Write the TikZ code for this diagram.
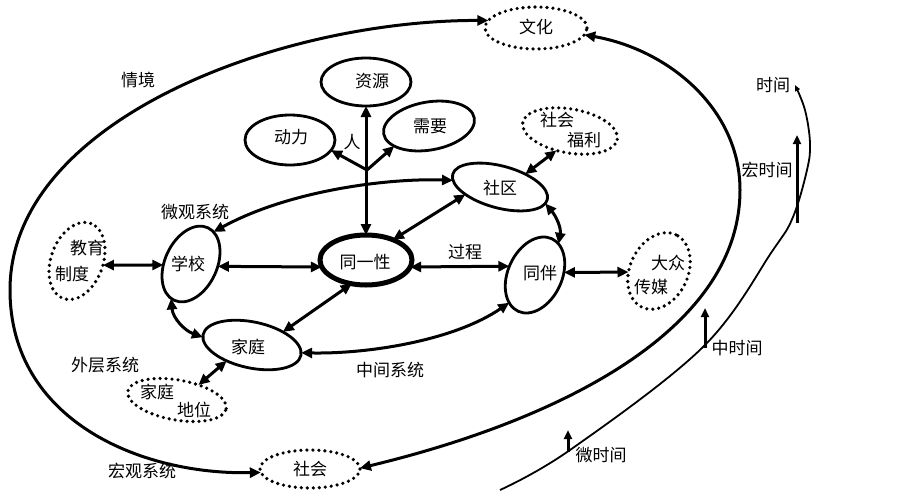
\documentclass[tikz,border=0pt]{standalone}
\usepackage{fontspec}
\newfontfamily\cjkfont{Noto Sans CJK SC}
\usetikzlibrary{shapes.geometric,arrows.meta}
\begin{document}
\begin{tikzpicture}[x=1pt,y=1pt,
  >={Triangle[length=11pt,width=10pt]},
  shp/.style={ellipse, draw, line width=2.8pt, inner sep=0pt, outer sep=0pt},
  ext/.style={ellipse, draw, line width=3.6pt, dash pattern=on 0pt off 6pt, line cap=round, inner sep=0pt, outer sep=0pt},
  lbl/.style={font=\cjkfont\fontsize{17}{19}\selectfont, inner sep=0pt},
  conn/.style={line width=3pt, <->},
  one/.style={line width=3pt, ->},
  bar/.style={line width=3pt, -{Triangle[length=9pt,width=8pt]}},
  tline/.style={line width=1.8pt, -{Triangle[length=6pt,width=5pt]}},
]
\useasboundingbox (0,0) rectangle (903,-499);

% nodes
\node[ext, minimum width=102, minimum height=42] (wenhua) at (536,-28) {};
\node[lbl] (twenhua) at (536,-27) {文化};
\node[ext, minimum width=100, minimum height=38] (shehui) at (310,-469) {};
\node[lbl] (tshehui) at (310,-469) {社会};
\node[shp, minimum width=90, minimum height=48] (ziyuan) at (366,-82) {};
\node[lbl] (tziyuan) at (372,-81) {资源};
\node[shp, minimum width=92, minimum height=48, rotate=10] (xuyao) at (429,-126) {};
\node[lbl] (txuyao) at (430,-126) {需要};
\node[shp, minimum width=90, minimum height=50] (dongli) at (290,-140) {};
\node[lbl] (tdongli) at (291,-137) {动力};
\node[shp, line width=5pt, minimum width=92, minimum height=50] (tongyi) at (366,-260) {};
\node[lbl] (ttongyi) at (365,-262) {同一性};
\node[shp, minimum width=80, minimum height=52, rotate=65] (xuexiao) at (191,-264) {};
\node[lbl] (txuexiao) at (188,-264) {学校};
\node[shp, minimum width=100, minimum height=46, rotate=-12] (jiating) at (252,-345) {};
\node[lbl] (tjiating) at (248,-347) {家庭};
\node[shp, minimum width=98, minimum height=42, rotate=-15] (shequ) at (500,-187) {};
\node[lbl] (tshequ) at (500,-188) {社区};
\node[shp, minimum width=80, minimum height=54, rotate=65] (tongban) at (535,-275) {};
\node[lbl] (ttongban) at (540,-273) {同伴};
\node[ext, minimum width=80, minimum height=52, rotate=70] (jiaoyu) at (77,-261) {};
\node[lbl] (tjiaoyu1) at (87,-248) {教育};
\node[lbl] (tjiaoyu2) at (72,-274) {制度};
\node[ext, minimum width=96, minimum height=44, rotate=-10] (fuli) at (570,-131) {};
\node[lbl] (tfuli1) at (557,-120) {社会};
\node[lbl] (tfuli2) at (584,-140) {福利};
\node[ext, minimum width=80, minimum height=58, rotate=65] (chuanmei) at (659,-271) {};
\node[lbl] (tchuanmei1) at (668,-263) {大众};
\node[lbl] (tchuanmei2) at (651,-287) {传媒};
\node[ext, minimum width=100, minimum height=40, rotate=-10] (diwei) at (177,-400) {};
\node[lbl] (tdiwei1) at (157,-392) {家庭};
\node[lbl] (tdiwei2) at (194,-410) {地位};

% free labels
\node[lbl] (lqingjing) at (138,-80) {情境};
\node[lbl] (lweiguan) at (195,-212) {微观系统};
\node[lbl] (lwaiceng) at (105,-365) {外层系统};
\node[lbl] (lhongguan) at (142,-471) {宏观系统};
\node[lbl] (lzhongjian) at (390,-370) {中间系统};
\node[lbl] (lguocheng) at (465,-252) {过程};
\node[lbl] (lren) at (352,-142) {人};
\node[lbl] (lshijian) at (773,-85) {时间};
\node[lbl] (lhong) at (767,-170) {宏时间};
\node[lbl] (lzhong) at (737,-348) {中时间};
\node[lbl] (lwei) at (601,-455) {微时间};

% person arrows
\draw[conn] (ziyuan.south) -- (tongyi.north);
\coordinate (fork) at (367,-170);
\draw[one] (fork) -- (dongli.-14);
\draw[one] (fork) -- (xuyao.200);

% straight connectors
\draw[conn] (jiaoyu.-79) -- (xuexiao.117);
\draw[conn] (xuexiao.-70) -- (tongyi.189);
\draw[conn] (tongyi.-9) -- (tongban.96);
\draw[conn] (tongban.-60) -- (chuanmei.117);
\draw[conn] (tongyi.239) -- (jiating.35);
\draw[conn] (tongyi.37) -- (shequ.207);
\draw[conn] (shequ.42) -- (fuli.245);
\draw[conn] (jiating.224) -- (diwei.45);

% curved connectors
\draw[conn] (xuexiao.175) to[out=-85,in=160] (jiating.183);
\draw[conn] (shequ.-5) to[out=-50,in=80] (tongban.-12);
\draw[conn] (xuexiao.-10) .. controls (290,-190) and (390,-178) .. (shequ.187);
\draw[conn] (jiating.3) .. controls (370,-354) and (455,-340) .. (tongban.162);

% outer macro arcs
\coordinate (lmost) at (10,-290);
\coordinate (rmost) at (740,-190);
\draw[conn] (wenhua.171) .. controls (280,-20) and (10,-120) .. (lmost)
  .. controls (10,-420) and (140,-475) .. (shehui.184);
\draw[conn] (shehui.1) .. controls (560,-420) and (740,-330) .. (rmost)
  .. controls (740,-110) and (670,-50) .. (wenhua.-8);

% time axis
\coordinate (tstart) at (500,-490);
\coordinate (tend) at (795,-85);
\draw[tline] plot[smooth, tension=0.6] coordinates {(tstart) (570,-450) (703,-347) (773,-250) (793,-217) (807,-170) (810,-143) (805,-110) (tend)};
\coordinate (m1a) at (797,-223);
\coordinate (m1b) at (797,-135);
\coordinate (m2a) at (705,-348);
\coordinate (m2b) at (705,-308);
\coordinate (m3a) at (568,-452);
\coordinate (m3b) at (568,-430);
\draw[bar] (m1a) -- (m1b);
\draw[bar] (m2a) -- (m2b);
\draw[bar] (m3a) -- (m3b);
\end{tikzpicture}
\end{document}
